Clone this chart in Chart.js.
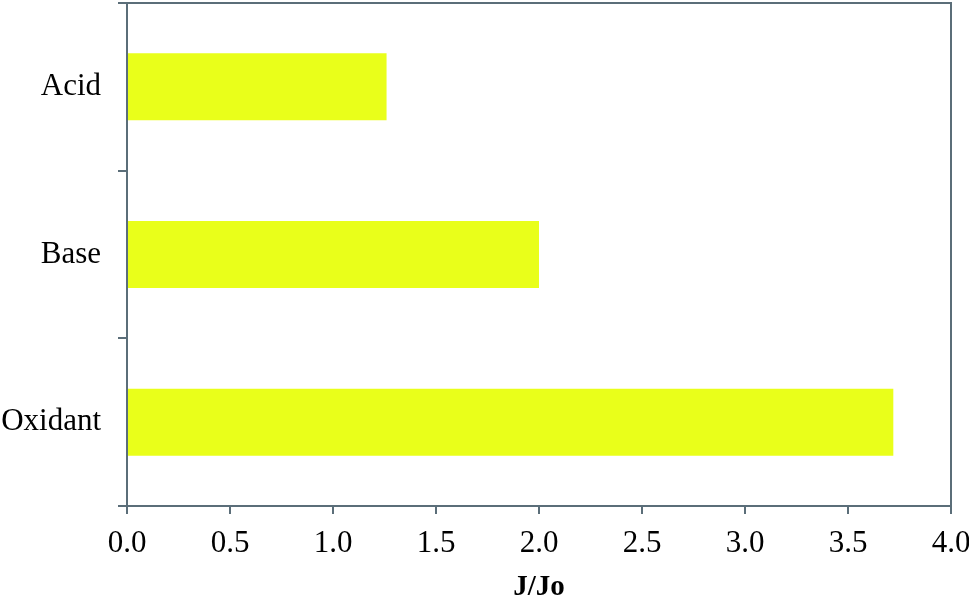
<!DOCTYPE html>
<html>
<head>
<meta charset="utf-8">
<script src="https://cdn.jsdelivr.net/npm/chart.js@4"></script>
<style>
  html, body { margin: 0; padding: 0; background: #fff; }
  canvas { display: block; }
</style>
</head>
<body>
<canvas id="chart" width="969" height="601"></canvas>
<script>
const categories = ["Acid", "Base", "Oxidant"]
const ratios = [1.26, 2.0, 3.72]
const xTicks = [0, 0.5, 1.0, 1.5, 2.0, 2.5, 3.0, 3.5, 4.0]
const axisTitle = "J/Jo"

const axisColor = "#5b6e79"
const serif = "'Liberation Serif', 'Times New Roman', serif"

// box round the plot area (top and right sides)
const frame = {
    id: "frame",
    afterDraw(chart) {
        const a = chart.chartArea
        const ctx = chart.ctx
        ctx.save()
        ctx.strokeStyle = axisColor
        ctx.lineWidth = 2
        ctx.beginPath()
        ctx.moveTo(a.left - 9, a.top)
        ctx.lineTo(a.right, a.top)
        ctx.lineTo(a.right, a.bottom)
        ctx.stroke()
        ctx.restore()
    }
}

new Chart(document.getElementById("chart"), {
    type: "bar",
    data: {
        labels: categories,
        datasets: [{
            label: axisTitle,
            data: ratios,
            backgroundColor: "#e9ff1a",
            borderWidth: 0,
            categoryPercentage: 1.0,
            barPercentage: 0.4
        }]
    },
    options: {
        indexAxis: "y",
        responsive: false,
        animation: false,
        events: [],
        layout: { padding: { top: 3, right: 18, left: 0, bottom: 0 } },
        plugins: {
            legend: { display: false },
            tooltip: { enabled: false }
        },
        scales: {
            x: {
                min: 0,
                max: 4,
                afterBuildTicks: function (scale) {
                    scale.ticks = xTicks.map(v => ({ value: v }))
                },
                afterFit: function (scale) {
                    scale.height = 95
                    scale.paddingLeft = 0
                    scale.paddingRight = 0
                },
                border: { color: axisColor, width: 2 },
                grid: { drawOnChartArea: false, drawTicks: true, tickLength: 8, color: axisColor, lineWidth: 2 },
                ticks: {
                    color: "#000",
                    padding: 11,
                    autoSkip: false,
                    maxRotation: 0,
                    font: { family: serif, size: 31 },
                    callback: function (v) { return Number(v).toFixed(1) }
                },
                title: {
                    display: true,
                    text: axisTitle,
                    color: "#000",
                    padding: { top: 10, bottom: -4 },
                    font: { family: serif, size: 29, weight: "bold" }
                }
            },
            y: {
                afterFit: function (scale) {
                    scale.width = 127
                    scale.paddingTop = 0
                    scale.paddingBottom = 0
                },
                border: { color: axisColor, width: 2 },
                grid: { drawOnChartArea: false, drawTicks: true, tickLength: 9, color: axisColor, lineWidth: 2 },
                ticks: {
                    color: "#000",
                    padding: 17,
                    autoSkip: false,
                    font: { family: serif, size: 31 }
                }
            }
        }
    },
    plugins: [frame]
})
</script>
</body>
</html>
